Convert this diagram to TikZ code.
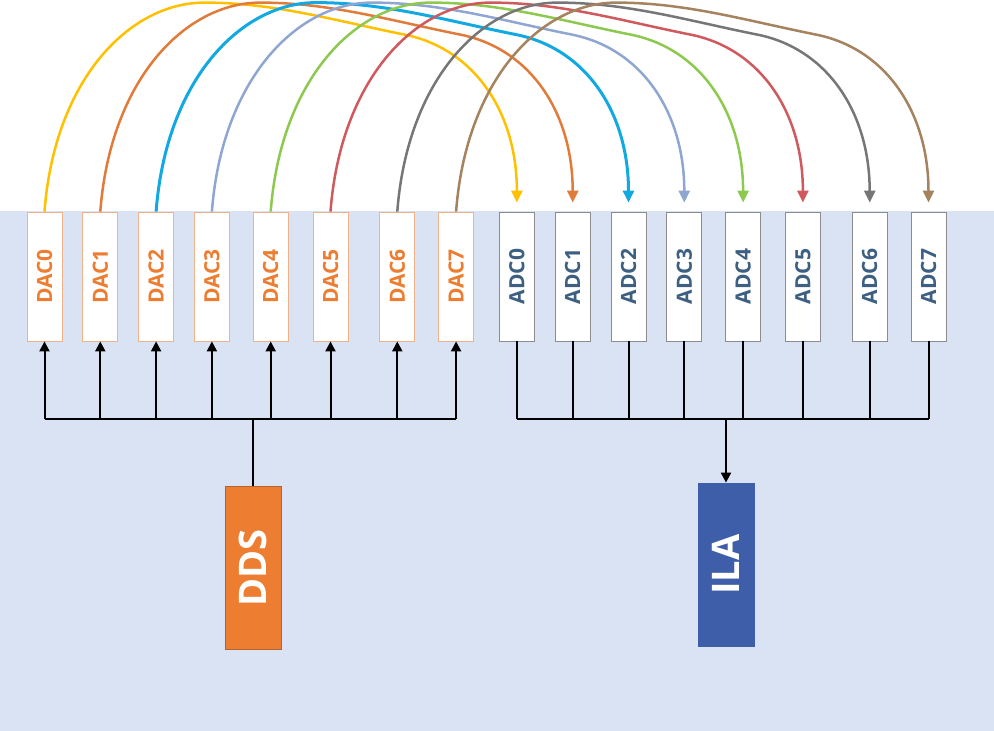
\documentclass[tikz,border=0pt]{standalone}
\usepackage{fontspec}
\setmainfont{Open Sans}
\usepackage{xcolor}
\usepackage{graphicx}
\usetikzlibrary{arrows.meta,positioning,calc}

\definecolor{bgblue}{HTML}{DAE3F3}
\definecolor{ddsorange}{HTML}{ED7D31}
\definecolor{ddsedge}{HTML}{B8612A}
\definecolor{ilablue}{HTML}{3F5EAA}
\definecolor{dacedge}{HTML}{F0B088}
\definecolor{adcedge}{HTML}{8C8C8C}
\definecolor{adctext}{HTML}{3C5F82}
\definecolor{wire0}{HTML}{FFC000}
\definecolor{wire1}{HTML}{E07B39}
\definecolor{wire2}{HTML}{12A9E3}
\definecolor{wire3}{HTML}{8FA6D2}
\definecolor{wire4}{HTML}{8CC94E}
\definecolor{wire5}{HTML}{D0595E}
\definecolor{wire6}{HTML}{767676}
\definecolor{wire7}{HTML}{A5835F}

\newcommand{\vtext}[1]{\rotatebox{90}{#1}}

\begin{document}
\begin{tikzpicture}[
    x=1pt, y=-1pt,
    node distance=20pt,
    dac/.style={rectangle, draw=dacedge, fill=white, line width=0.8pt, minimum width=35pt, minimum height=129pt, inner sep=0pt, text=ddsorange, font=\fontsize{21}{21}\selectfont\bfseries},
    adc/.style={dac, draw=adcedge, text=adctext},
    core/.style={rectangle, draw, line width=0.8pt, minimum width=56pt, minimum height=163pt, inner sep=0pt, text=white, font=\fontsize{38}{38}\selectfont\bfseries},
    arrow/.style={-{Triangle[width=10pt,length=10pt]}, line width=2pt},
    bus/.style={line width=2pt},
    wire/.style={-{Triangle[width=11pt,length=12pt]}, line width=2.5pt}
]

% Board
\useasboundingbox (0,0) rectangle (994,731);
\fill[bgblue] (0,211) rectangle (994,731);

% DAC channels
\node[dac] (dac0) at (44.5,276.5) {\vtext{DAC0}};
\node[dac, right=of dac0] (dac1) {\vtext{DAC1}};
\node[dac, right=of dac1] (dac2) {\vtext{DAC2}};
\node[dac, right=of dac2] (dac3) {\vtext{DAC3}};
\node[dac, right=23pt of dac3] (dac4) {\vtext{DAC4}};
\node[dac, right=24pt of dac4] (dac5) {\vtext{DAC5}};
\node[dac, right=31pt of dac5] (dac6) {\vtext{DAC6}};
\node[dac, right=23pt of dac6] (dac7) {\vtext{DAC7}};

% ADC channels
\node[adc, right=25pt of dac7] (adc0) {\vtext{ADC0}};
\node[adc, right=of adc0] (adc1) {\vtext{ADC1}};
\node[adc, right=of adc1] (adc2) {\vtext{ADC2}};
\node[adc, right=of adc2] (adc3) {\vtext{ADC3}};
\node[adc, right=23pt of adc3] (adc4) {\vtext{ADC4}};
\node[adc, right=24pt of adc4] (adc5) {\vtext{ADC5}};
\node[adc, right=31pt of adc5] (adc6) {\vtext{ADC6}};
\node[adc, right=23pt of adc6] (adc7) {\vtext{ADC7}};

% Signal source and logic analyser
\node[core, fill=ddsorange, draw=ddsedge] (dds) at (253,568) {\vtext{DDS}};
\node[core, fill=ilablue, draw=ilablue] (ila) at (726,564.5) {\vtext{ILA}};

% Buses
\coordinate (dacbus) at (0,419);
\coordinate (adcbus) at (0,419);
\draw[bus] (dac0 |- dacbus) -- (dac7 |- dacbus);
\draw[bus] (adc0 |- adcbus) -- (adc7 |- adcbus);
\draw[bus] (dds.north) -- (dds.north |- dacbus);
\draw[arrow] (ila.north |- adcbus) -- (ila.north);

\draw[arrow] (dac0 |- dacbus) -- (dac0.south);
\draw[arrow] (dac1 |- dacbus) -- (dac1.south);
\draw[arrow] (dac2 |- dacbus) -- (dac2.south);
\draw[arrow] (dac3 |- dacbus) -- (dac3.south);
\draw[arrow] (dac4 |- dacbus) -- (dac4.south);
\draw[arrow] (dac5 |- dacbus) -- (dac5.south);
\draw[arrow] (dac6 |- dacbus) -- (dac6.south);
\draw[arrow] (dac7 |- dacbus) -- (dac7.south);

\draw[bus] (adc0.south) -- (adc0 |- adcbus);
\draw[bus] (adc1.south) -- (adc1 |- adcbus);
\draw[bus] (adc2.south) -- (adc2 |- adcbus);
\draw[bus] (adc3.south) -- (adc3 |- adcbus);
\draw[bus] (adc4.south) -- (adc4 |- adcbus);
\draw[bus] (adc5.south) -- (adc5 |- adcbus);
\draw[bus] (adc6.south) -- (adc6 |- adcbus);
\draw[bus] (adc7.south) -- (adc7 |- adcbus);

% Loopback wires
\draw[wire, wire0] (dac0.north) .. controls +(10,-132) and +(-75,0) .. ++(160,-209)
    .. controls +(70,0) and +(-70,-14) .. ++(200,32)
    .. controls +(70,14) and +(0,-90) .. ([yshift=9pt]adc0.north);
\draw[wire, wire1] (dac1.north) .. controls +(10,-132) and +(-75,0) .. ++(160,-209)
    .. controls +(70,0) and +(-70,-14) .. ++(200,32)
    .. controls +(70,14) and +(0,-90) .. ([yshift=9pt]adc1.north);
\draw[wire, wire2, line width=3pt] (dac2.north) .. controls +(10,-132) and +(-75,0) .. ++(160,-209)
    .. controls +(70,0) and +(-70,-14) .. ++(200,32)
    .. controls +(70,14) and +(0,-90) .. ([yshift=9pt]adc2.north);
\draw[wire, wire3] (dac3.north) .. controls +(10,-132) and +(-75,0) .. ++(160,-209)
    .. controls +(70,0) and +(-70,-14) .. ++(200,32)
    .. controls +(70,14) and +(0,-90) .. ([yshift=9pt]adc3.north);
\draw[wire, wire4] (dac4.north) .. controls +(10,-132) and +(-75,0) .. ++(160,-209)
    .. controls +(70,0) and +(-70,-14) .. ++(200,32)
    .. controls +(70,14) and +(0,-90) .. ([yshift=9pt]adc4.north);
\draw[wire, wire5] (dac5.north) .. controls +(10,-132) and +(-75,0) .. ++(160,-209)
    .. controls +(70,0) and +(-70,-14) .. ++(200,32)
    .. controls +(70,14) and +(0,-90) .. ([yshift=9pt]adc5.north);
\draw[wire, wire6] (dac6.north) .. controls +(10,-132) and +(-75,0) .. ++(160,-209)
    .. controls +(70,0) and +(-70,-14) .. ++(200,32)
    .. controls +(70,14) and +(0,-90) .. ([yshift=9pt]adc6.north);
\draw[wire, wire7] (dac7.north) .. controls +(10,-132) and +(-75,0) .. ++(160,-209)
    .. controls +(70,0) and +(-70,-14) .. ++(200,32)
    .. controls +(70,14) and +(0,-90) .. ([yshift=9pt]adc7.north);

\end{tikzpicture}
\end{document}
